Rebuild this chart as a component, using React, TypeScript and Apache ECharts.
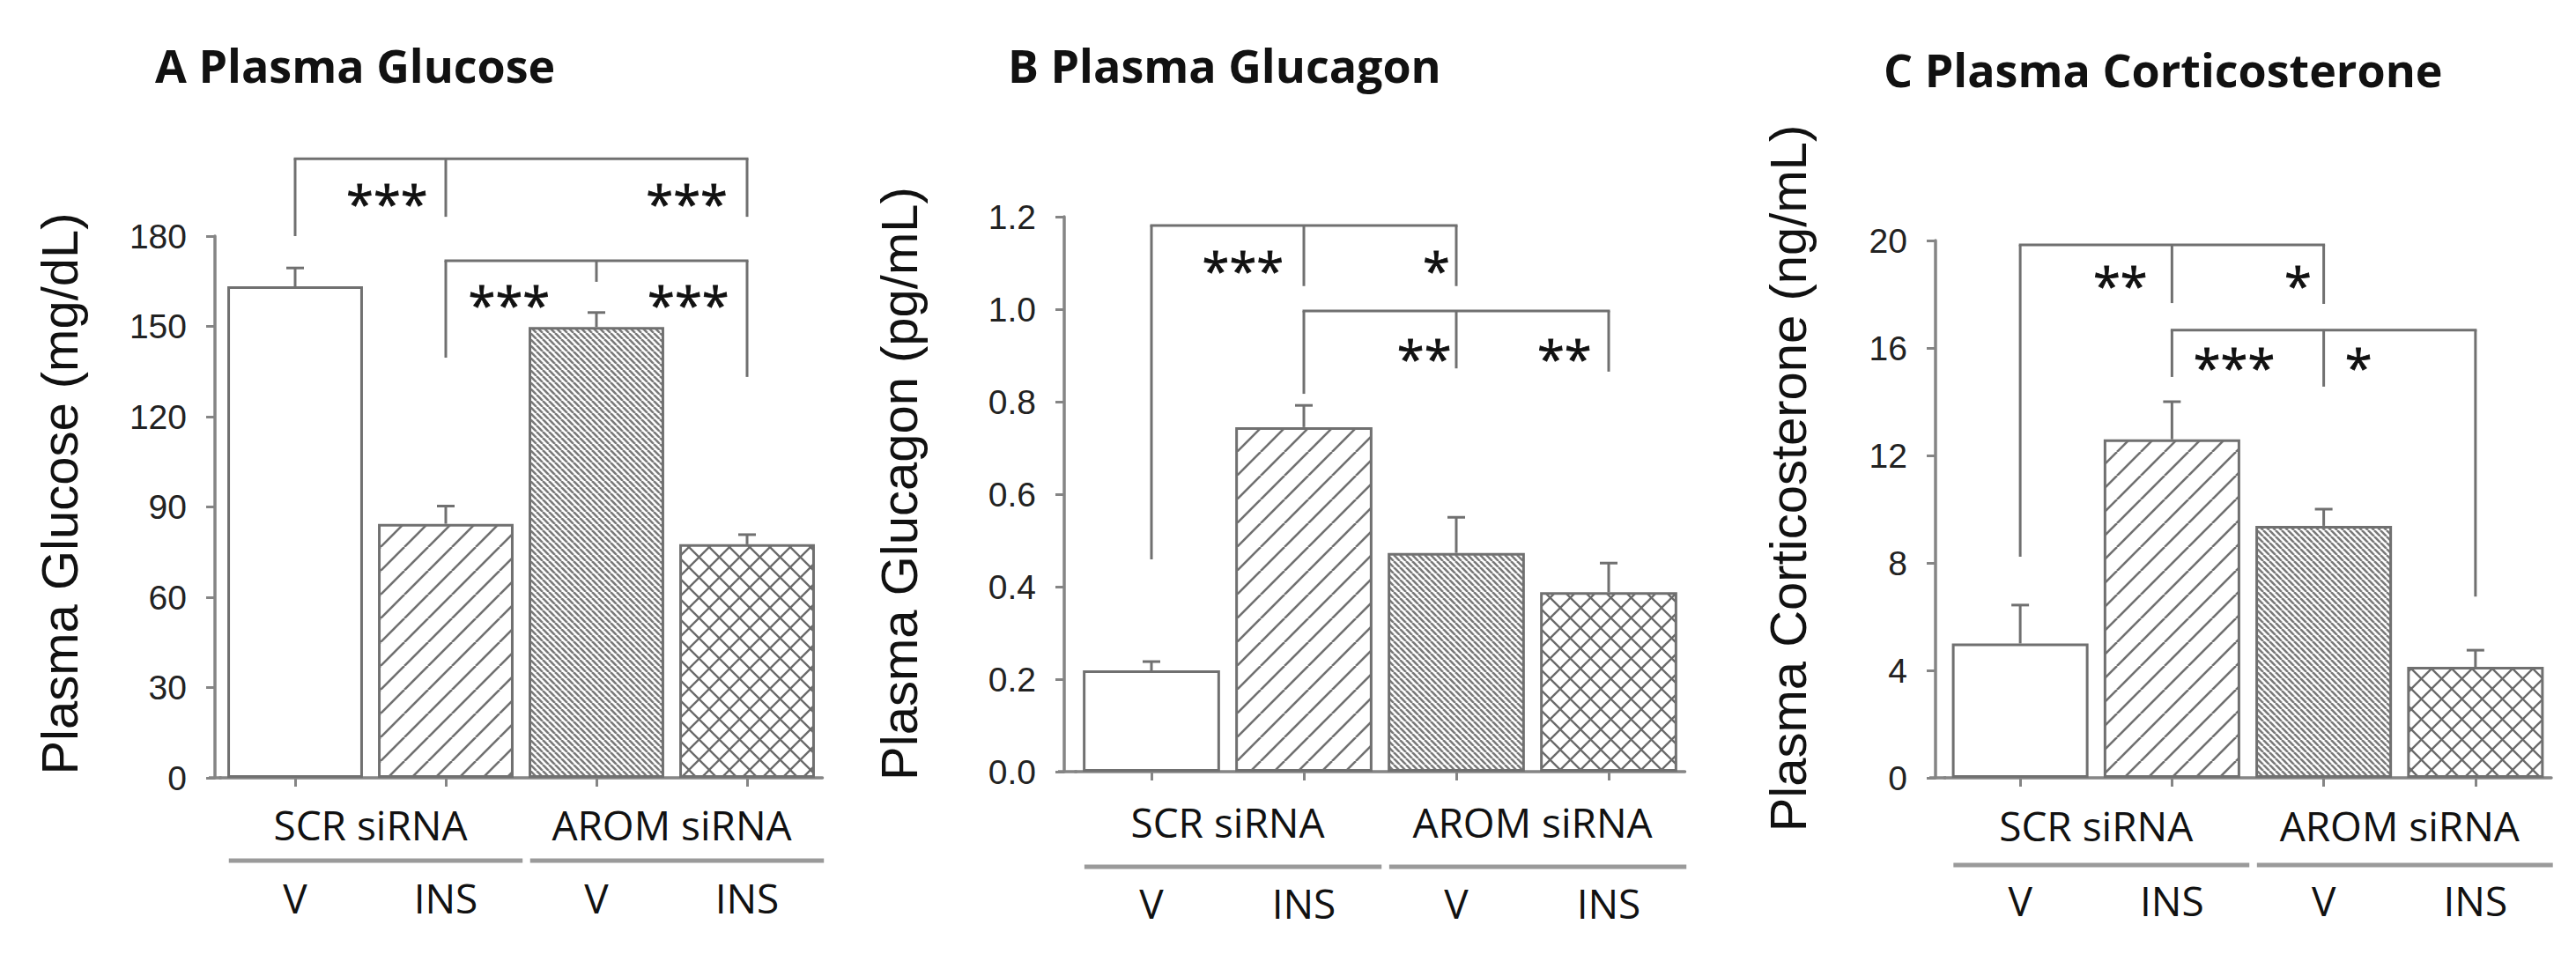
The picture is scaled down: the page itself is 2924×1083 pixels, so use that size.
import React, { useEffect, useRef } from 'react';
import * as echarts from 'echarts';

// ---------- data ----------
const categories = ['V', 'INS', 'V', 'INS'];
const groups = ['SCR siRNA', 'AROM siRNA'];

const glucoseMean = [163.3, 84.4, 149.8, 77.6];
const glucoseSem = [6.1, 5.9, 4.8, 3.2];
const glucagonMean = [0.219, 0.745, 0.473, 0.388];
const glucagonSem = [0.019, 0.047, 0.077, 0.063];
const corticoMean = [5.0, 12.6, 9.38, 4.13];
const corticoSem = [1.43, 1.4, 0.62, 0.62];

// axis: [min, max, interval]
const glucoseAxis = [0, 180, 30];
const glucagonAxis = [0, 1.2, 0.2];
const corticoAxis = [0, 20, 4];

// significance brackets: category positions, top value, drop end values
const glucoseBrackets = [
  { xs: [0, 1, 3], top: 205.7, ends: [180, 186.4, 186.4] },
  { xs: [1, 2, 3], top: 171.8, ends: [139.6, 164.8, 133.2] },
];
const glucagonBrackets = [
  { xs: [0, 1, 2], top: 1.181, ends: [0.459, 1.05, 1.05] },
  { xs: [1, 2, 3], top: 0.996, ends: [0.817, 0.872, 0.865] },
];
const corticoBrackets = [
  { xs: [0, 1, 2], top: 19.84, ends: [8.23, 17.67, 17.64] },
  { xs: [1, 2, 3], top: 16.66, ends: [14.92, 14.56, 6.75] },
];

// stars: category position, value, text
const glucoseStars = [
  { pos: 0.61, y: 194, text: '***' },
  { pos: 2.6, y: 194, text: '***' },
  { pos: 1.42, y: 160.4, text: '***' },
  { pos: 2.61, y: 160.4, text: '***' },
];
const glucagonStars = [
  { pos: 0.6, y: 1.105, text: '***' },
  { pos: 1.87, y: 1.105, text: '*' },
  { pos: 1.79, y: 0.914, text: '**' },
  { pos: 2.71, y: 0.914, text: '**' },
];
const corticoStars = [
  { pos: 0.66, y: 18.69, text: '**' },
  { pos: 1.83, y: 18.69, text: '*' },
  { pos: 1.41, y: 15.64, text: '***' },
  { pos: 2.23, y: 15.64, text: '*' },
];

const titles = ['A Plasma Glucose', 'B Plasma Glucagon', 'C Plasma Corticosterone'];
const yNames = ['Plasma Glucose (mg/dL)', 'Plasma Glucagon (pg/mL)', 'Plasma Corticosterone (ng/mL)'];

// ---------- layout / style ----------
const layouts = [
  { left: 249.5, top: 268, width: 684, height: 615, yOffset: 5.5, nameGap: 148, namePad: 30, titleLeft: 176, titleTop: 47, groupY: 54, lineY: 94, subY: 137, digits: 0 },
  { left: 1220.5, top: 246, width: 692, height: 630, yOffset: 12.5, nameGap: 159, namePad: 24, titleLeft: 1144, titleTop: 47, groupY: 58, lineY: 108, subY: 150, digits: 1 },
  { left: 2207, top: 273, width: 689, height: 610, yOffset: 10, nameGap: 139, namePad: 70, titleLeft: 2138, titleTop: 52, groupY: 55, lineY: 99, subY: 140, digits: 0 },
];

const AX = '#858585';
const LINE = '#707070';
const CAT_FONT = 'Open Sans';

function hatch(size: number, dirs: string[], color: string, width: number) {
  const c = document.createElement('canvas');
  c.width = size;
  c.height = size;
  const ctx = c.getContext('2d')!;
  ctx.fillStyle = '#ffffff';
  ctx.fillRect(0, 0, size, size);
  ctx.strokeStyle = color;
  ctx.lineWidth = width;
  for (const d of dirs) {
    for (let k = -1; k <= 1; k++) {
      ctx.beginPath();
      if (d === '/') {
        ctx.moveTo(k * size, size);
        ctx.lineTo(k * size + size, 0);
      } else {
        ctx.moveTo(k * size, 0);
        ctx.lineTo(k * size + size, size);
      }
      ctx.stroke();
    }
  }
  return { image: c.toDataURL(), repeat: 'repeat', imageWidth: size, imageHeight: size };
}

export default function App() {
  const ref = useRef<HTMLDivElement>(null);

  useEffect(() => {
    if (!ref.current) return;
    const chart = echarts.init(ref.current, undefined, { renderer: 'svg' });

    const patterns: any[] = [
      '#ffffff',
      hatch(27, ['/'], '#707070', 2.6),
      hatch(7, ['\\'], '#7a7a7a', 2.6),
      hatch(23, ['/', '\\'], '#6a6a6a', 2.3),
    ];

    const panels = [
      { mean: glucoseMean, sem: glucoseSem, axis: glucoseAxis, brackets: glucoseBrackets, stars: glucoseStars },
      { mean: glucagonMean, sem: glucagonSem, axis: glucagonAxis, brackets: glucagonBrackets, stars: glucagonStars },
      { mean: corticoMean, sem: corticoSem, axis: corticoAxis, brackets: corticoBrackets, stars: corticoStars },
    ];

    const series: any[] = [];
    panels.forEach((p, i) => {
      const L = layouts[i];
      const xi = 2 * i;
      series.push({
        type: 'bar',
        xAxisIndex: xi,
        yAxisIndex: i,
        barWidth: '90%',
        data: p.mean.map((v, j) => ({ value: v, itemStyle: { color: patterns[j] } })),
        itemStyle: { borderColor: LINE, borderWidth: 3 },
        z: 2,
      });
      // error bars
      series.push({
        type: 'custom',
        xAxisIndex: xi,
        yAxisIndex: i,
        z: 3,
        data: p.mean.map((v, j) => [j, v, p.sem[j]]),
        renderItem: (params: any, api: any) => {
          const j = api.value(0);
          const m = api.value(1);
          const e = api.value(2);
          const base = api.coord([j, m]);
          const top = api.coord([j, m + e]);
          return {
            type: 'group',
            children: [
              { type: 'line', shape: { x1: base[0], y1: base[1], x2: top[0], y2: top[1] }, style: { stroke: LINE, lineWidth: 3 } },
              { type: 'line', shape: { x1: top[0] - 10, y1: top[1], x2: top[0] + 10, y2: top[1] }, style: { stroke: LINE, lineWidth: 3 } },
            ],
          };
        },
      });
      // brackets
      series.push({
        type: 'custom',
        xAxisIndex: xi,
        yAxisIndex: i,
        z: 3,
        data: p.brackets.map((b) => [b.xs[0], b.top]),
        renderItem: (params: any, api: any) => {
          const b = p.brackets[params.dataIndex];
          const topY = api.coord([0, b.top])[1];
          const xs = b.xs.map((x) => api.coord([x, 0])[0]);
          const children: any[] = [
            { type: 'line', shape: { x1: xs[0] - 1.5, y1: topY, x2: xs[xs.length - 1] + 1.5, y2: topY }, style: { stroke: LINE, lineWidth: 3 } },
          ];
          xs.forEach((x, k) => {
            children.push({ type: 'line', shape: { x1: x, y1: topY, x2: x, y2: api.coord([0, b.ends[k]])[1] }, style: { stroke: LINE, lineWidth: 3 } });
          });
          return { type: 'group', children };
        },
      });
      // stars
      series.push({
        type: 'custom',
        xAxisIndex: xi,
        yAxisIndex: i,
        z: 4,
        data: p.stars.map((s) => [Math.floor(s.pos), s.y]),
        renderItem: (params: any, api: any) => {
          const s = p.stars[params.dataIndex];
          const i0 = Math.floor(s.pos);
          const c = api.coord([i0, s.y]);
          const w = api.coord([1, 0])[0] - api.coord([0, 0])[0];
          return {
            type: 'text',
            x: c[0] + (s.pos - i0) * w,
            y: c[1] + 10,
            style: { text: s.text, fontSize: 56, fontFamily: CAT_FONT, fill: '#111111', align: 'center', verticalAlign: 'middle', stroke: '#111111', lineWidth: 0.8 },
          };
        },
      });
      // group underlines + baseline extension
      series.push({
        type: 'custom',
        xAxisIndex: xi,
        yAxisIndex: i,
        z: 3,
        data: groups.map((g, k) => [2 * k, 0]),
        renderItem: (params: any, api: any) => {
          const k = params.dataIndex;
          const c0 = api.coord([2 * k, 0]);
          const c1 = api.coord([2 * k + 1, 0]);
          const w = c1[0] - c0[0];
          const children: any[] = [
            { type: 'line', shape: { x1: c0[0] - 0.44 * w, y1: c0[1] + L.lineY, x2: c1[0] + 0.51 * w, y2: c0[1] + L.lineY }, style: { stroke: '#9a9a9a', lineWidth: 5 } },
          ];
          if (k === 0) {
            const gl = c0[0] - w / 2;
            children.push({ type: 'line', shape: { x1: gl - L.yOffset - 7, y1: c0[1], x2: gl + 2, y2: c0[1] }, style: { stroke: AX, lineWidth: 3.5 } });
          }
          return { type: 'group', children };
        },
      });
    });

    const option: any = {
      animation: false,
      backgroundColor: '#ffffff',
      title: titles.map((t, i) => ({
        text: t,
        left: layouts[i].titleLeft,
        top: layouts[i].titleTop,
        padding: 0,
        textStyle: { fontFamily: CAT_FONT, fontWeight: 'bold', fontSize: 52, color: '#111111' },
      })),
      grid: layouts.map((L) => ({ left: L.left, top: L.top, width: L.width, height: L.height, containLabel: false })),
      xAxis: layouts.flatMap((L, i) => [
        {
          type: 'category',
          gridIndex: i,
          data: categories,
          axisLine: { show: true, lineStyle: { color: AX, width: 3.5 } },
          axisTick: { show: true, alignWithLabel: true, length: 10, lineStyle: { color: AX, width: 3 } },
          axisLabel: { margin: L.subY - 24, fontFamily: CAT_FONT, fontSize: 46, color: '#111111', interval: 0 },
          splitLine: { show: false },
        },
        {
          type: 'category',
          gridIndex: i,
          position: 'bottom',
          data: groups,
          axisLine: { show: false },
          axisTick: { show: false },
          axisLabel: { margin: L.groupY - 24, fontFamily: CAT_FONT, fontSize: 46, color: '#111111', interval: 0 },
          splitLine: { show: false },
        },
      ]),
      yAxis: layouts.map((L, i) => {
        const ax = panels[i].axis;
        return {
          type: 'value',
          gridIndex: i,
          min: ax[0],
          max: ax[1],
          interval: ax[2],
          offset: L.yOffset,
          name: yNames[i],
          nameLocation: 'middle',
          nameGap: L.nameGap,
          nameRotate: 90,
          nameTextStyle: { fontFamily: 'Liberation Sans', fontSize: 58, color: '#111111', padding: [0, 0, 0, L.namePad] },
          axisLine: { show: true, lineStyle: { color: AX, width: 3.5 } },
          axisTick: { show: true, length: 10, lineStyle: { color: AX, width: 3 } },
          axisLabel: {
            margin: 32,
            fontFamily: 'Liberation Sans',
            fontSize: 39,
            color: '#222222',
            formatter: (v: number) => v.toFixed(L.digits),
          },
          splitLine: { show: false },
        };
      }),
      series,
    };

    chart.setOption(option);
    return () => chart.dispose();
  }, []);

  return <div ref={ref} style={{ position: 'fixed', left: 0, top: 0, width: 2924, height: 1083, background: '#fff' }} />;
}
